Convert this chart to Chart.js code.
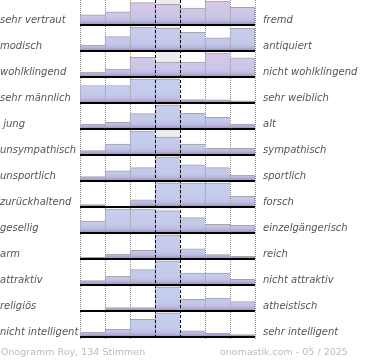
<!DOCTYPE html>
<html>
<head>
<meta charset="utf-8">
<script src="https://cdn.jsdelivr.net/npm/chart.js@4/dist/chart.umd.min.js"></script>
<style>
  body { margin: 0; background: #fff; }
  #wrap { position: relative; width: 370px; height: 360px; }
  .foot { position: absolute; top: 346px; font: 9.5px "DejaVu Sans"; color: #bbb; white-space: nowrap; }
</style>
</head>
<body>
<div id="wrap">
  <canvas id="myChart" width="370" height="360"></canvas>
  <div class="foot" style="left:1px">Onogramm Roy, 134 Stimmen</div>
  <div class="foot" style="left:220px">onomastik.com - 05 / 2025</div>
</div>
<script>
var leftLabels = ["sehr vertraut", "modisch", "wohlklingend", "sehr männlich", " jung", "unsympathisch",
    "unsportlich", "zurückhaltend", "gesellig", "arm", "attraktiv", "religiös", "nicht intelligent"];
var rightLabels = ["fremd", "antiquiert", "nicht wohlklingend", "sehr weiblich", "alt", "sympathisch",
    "sportlich", "forsch", "einzelgängerisch", "reich", "nicht attraktiv", "atheistisch", "sehr intelligent"];
var bins = ["1", "2", "3", "4", "5", "6", "7"];

// share of votes per step, relative to the biggest step of the row (%)
var vertrautFremd = [42, 55, 93, 86, 70, 100, 74];
var modischAntiquiert = [25, 60, 100, 94, 78, 55, 94];
var wohlklingend = [21, 33, 82, 62, 62, 100, 80];
var maennlichWeiblich = [73, 73, 100, 100, 14, 13, 9];
var jungAlt = [21, 28, 64, 100, 65, 49, 21];
var sympathisch = [18, 46, 100, 75, 46, 28, 28];
var sportlich = [18, 42, 56, 100, 67, 56, 25];
var zurueckhaltendForsch = [10, 0, 30, 100, 100, 100, 44];
var geselligEinzel = [50, 100, 100, 92, 64, 36, 32];
var armReich = [7, 21, 36, 100, 42, 18, 11];
var attraktiv = [18, 36, 64, 100, 50, 50, 24];
var religioesAtheist = [0, 14, 14, 100, 49, 54, 39];
var intelligent = [21, 32, 74, 100, 26, 15, 10];

var rows = [vertrautFremd, modischAntiquiert, wohlklingend, maennlichWeiblich, jungAlt, sympathisch,
    sportlich, zurueckhaltendForsch, geselligEinzel, armReich, attraktiv, religioesAtheist, intelligent];

var nRows = rows.length;
var barH = 24 / 26;      // bar height of a full step, in row units
var pinkRows = [0, 2];

function rowGradient(c) {
    var chart = c.chart;
    if (!chart.chartArea) return "#c5cdea";
    var y = chart.scales.y;
    var base = nRows - 1 - c.datasetIndex;
    var g = chart.ctx.createLinearGradient(0, y.getPixelForValue(base + barH), 0, y.getPixelForValue(base));
    if (pinkRows.indexOf(c.datasetIndex) >= 0) {
        g.addColorStop(0, "#dcc5e6");
        g.addColorStop(0.35, "#d2c6e6");
        g.addColorStop(0.7, "#c7c6e7");
    } else {
        g.addColorStop(0, "#c6cfed");
        g.addColorStop(0.7, "#c3c8e9");
    }
    g.addColorStop(0.84, "#bbb8e0");
    g.addColorStop(0.93, "#a99dcf");
    g.addColorStop(1, "#9a89c2");
    return g;
}

var datasets = rows.map(function (vals, i) {
    var base = nRows - 1 - i;
    return {
        label: leftLabels[i],
        data: vals.map(function (v) { return [base, base + v / 100 * barH]; }),
        backgroundColor: rowGradient,
        borderColor: "#a4a4aa",
        borderWidth: function (c) {
            var r = c.raw;
            if (!r || r[1] - r[0] <= 0) return 0;
            return { top: 1, left: 1, right: c.dataIndex === 6 ? 1 : 0, bottom: 0 };
        },
        borderSkipped: false,
        grouped: false,
        barPercentage: 1,
        categoryPercentage: 1
    };
});

// grid of the seven steps: dotted outside, dashed round the middle
var guides = {
    id: "guides",
    beforeDatasetsDraw: function (chart) {
        var ctx = chart.ctx, x = chart.scales.x, area = chart.chartArea;
        var step = x.width / 7;
        ctx.save();
        ctx.fillStyle = "#ececec";
        ctx.fillRect(x.left + 3 * step, area.top, step, area.bottom - area.top);
        ctx.strokeStyle = "#8a8a8a";
        ctx.lineWidth = 1;
        ctx.setLineDash([1, 1]);
        [0, 1, 2, 5, 6, 7].forEach(function (k) {
            var px = Math.round(x.left + k * step) + 0.5;
            ctx.beginPath();
            ctx.moveTo(px, 0);
            ctx.lineTo(px, area.bottom + 3);
            ctx.stroke();
        });
        ctx.restore();
    },
    afterDatasetsDraw: function (chart) {
        var ctx = chart.ctx, x = chart.scales.x, area = chart.chartArea;
        var step = x.width / 7;
        ctx.save();
        ctx.strokeStyle = "#000";
        ctx.lineWidth = 1;
        ctx.setLineDash([3, 2]);
        [3, 4].forEach(function (k) {
            var px = Math.round(x.left + k * step) + 0.5;
            ctx.beginPath();
            ctx.moveTo(px, 0);
            ctx.lineTo(px, area.bottom);
            ctx.stroke();
        });
        ctx.restore();
    }
};

function rowTicks(axis) {
    axis.ticks = rows.map(function (r, i) { return { value: i }; });
}

var labelFont = { family: "DejaVu Sans", size: 10, style: "italic" };

var ctx = document.getElementById("myChart").getContext("2d");
var myChart = new Chart(ctx, {
    type: "bar",
    data: { labels: bins, datasets: datasets },
    options: {
        responsive: false,
        animation: false,
        devicePixelRatio: 1,
        layout: { padding: { top: 0, bottom: 23, left: 0, right: 0 } },
        plugins: { legend: { display: false }, tooltip: { enabled: false } },
        scales: {
            x: { type: "category", display: false, offset: true },
            y: {
                type: "linear",
                position: "left",
                min: 0,
                max: 12 + 25 / 26,
                afterBuildTicks: rowTicks,
                afterFit: function (s) { s.width = 80; s.paddingTop = 0; s.paddingBottom = 0; },
                border: { display: false },
                grid: { color: "#000", lineWidth: 2, drawTicks: false, z: 1 },
                ticks: {
                    autoSkip: false,
                    crossAlign: "far",
                    labelOffset: -5,
                    color: "#555",
                    font: labelFont,
                    callback: function (v) { return leftLabels[nRows - 1 - v]; }
                }
            },
            yr: {
                type: "linear",
                position: "right",
                min: 0,
                max: 12 + 25 / 26,
                afterBuildTicks: rowTicks,
                afterFit: function (s) { s.width = 115; s.paddingTop = 0; s.paddingBottom = 0; },
                border: { display: false },
                grid: { display: false, drawTicks: false },
                ticks: {
                    autoSkip: false,
                    padding: 8,
                    labelOffset: -5,
                    color: "#555",
                    font: labelFont,
                    callback: function (v) { return rightLabels[nRows - 1 - v]; }
                }
            }
        }
    },
    plugins: [guides]
});
</script>
</body>
</html>
